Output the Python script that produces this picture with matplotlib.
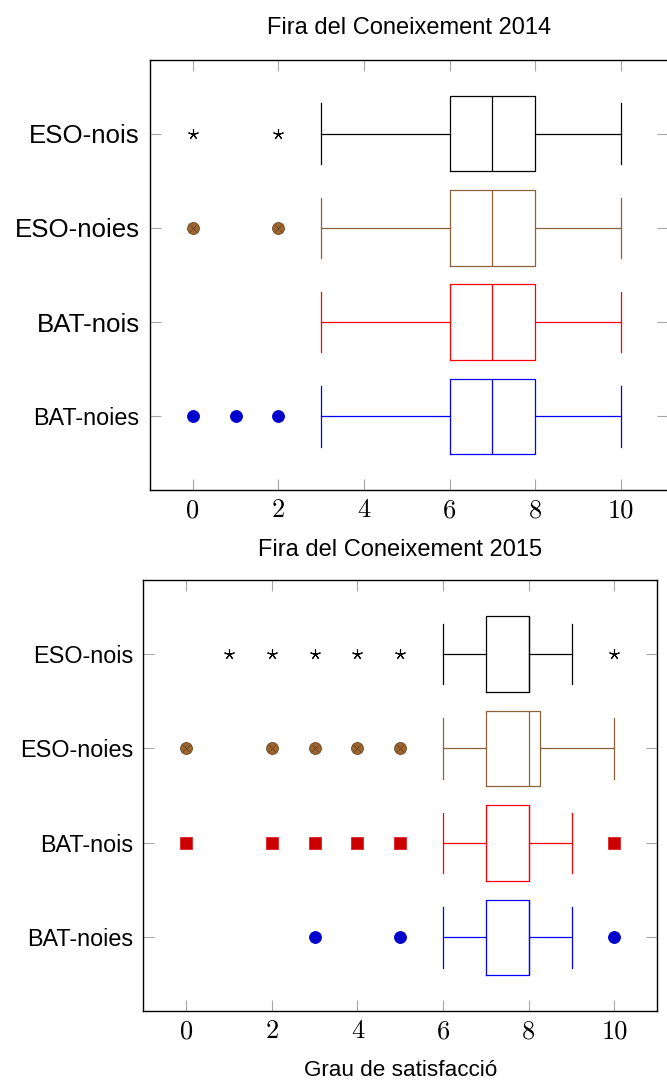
import matplotlib.pyplot as plt

# grups i posicions (de dalt a baix)
grups = ["ESO-nois", "ESO-noies", "BAT-nois", "BAT-noies"]
posicions = [4, 3, 2, 1]

# Fira 2014: bigotis, quartils i mediana
whislo_2014 = [3, 3, 3, 3]
q1_2014 = [6, 6, 6, 6]
med_2014 = [7, 7, 7, 7]
q3_2014 = [8, 8, 8, 8]
whishi_2014 = [10, 10, 10, 10]
atipics_2014 = [[0, 2], [0, 2], [], [0, 1, 2]]

# Fira 2015
whislo_2015 = [6, 6, 6, 6]
q1_2015 = [7, 7, 7, 7]
med_2015 = [8, 8, 8, 8]
q3_2015 = [8, 8.25, 8, 8]
whishi_2015 = [9, 10, 9, 9]
atipics_2015 = [[1, 2, 3, 4, 5, 10], [0, 2, 3, 4, 5], [0, 2, 3, 4, 5, 10], [3, 5, 10]]

ticks_x = [0, 2, 4, 6, 8, 10]

colors_caixa = ["black", "#8c6239", "#ff0000", "#0000ff"]
marques = [
    dict(marker=(5, 2, 0), markersize=7.5, markeredgecolor="black", markerfacecolor="none", markeredgewidth=0.8),
    dict(marker="o", markersize=8.6, markeredgecolor="#6e4a24", markerfacecolor="#9c6531", markeredgewidth=0.6),
    dict(marker="s", markersize=8.2, markeredgecolor="#dd2222", markerfacecolor="#cc0000", markeredgewidth=0.6),
    dict(marker="o", markersize=8.6, markeredgecolor="#0000cc", markerfacecolor="#0000cc", markeredgewidth=0.6),
]

SANS = ["Liberation Sans", "DejaVu Sans"]


def dibuixa(ax, whislo, q1, med, q3, whishi, atipics):
    for i in range(len(grups)):
        stats = [dict(whislo=whislo[i], q1=q1[i], med=med[i], q3=q3[i],
                      whishi=whishi[i], fliers=atipics[i])]
        c = colors_caixa[i]
        lp = dict(color=c, linewidth=0.9)
        ax.bxp(stats, positions=[posicions[i]], orientation="horizontal",
               widths=0.8, capwidths=0.64, showfliers=True,
               boxprops=lp, whiskerprops=lp, capprops=lp, medianprops=lp,
               flierprops=dict(linestyle="none", **marques[i]))
        if i == 1:
            # la creu de la marca otimes
            ax.plot(atipics[i], [posicions[i]] * len(atipics[i]), linestyle="none",
                    marker="x", markersize=5.5, markeredgecolor="#6e4a24", markeredgewidth=0.6)


def estil(ax, xlim, mida_y):
    ax.set_xlim(*xlim)
    ax.set_ylim(0.22, 4.78)
    ax.set_xticks(ticks_x)
    ax.set_xticklabels([str(t) for t in ticks_x], fontfamily="cmr10", fontsize=19)
    ax.set_yticks(posicions)
    ax.set_yticklabels(grups, fontfamily=SANS)
    for lab, m in zip(ax.get_yticklabels(), mida_y):
        lab.set_fontsize(m)
    ax.tick_params(direction="in", length=8, width=0.8, color="0.65",
                   top=True, right=True)
    ax.tick_params(axis="x", pad=6)
    ax.tick_params(axis="y", pad=7.5)
    for s in ax.spines.values():
        s.set_linewidth(1.0)


fig = plt.figure(figsize=(6.67, 10.81), dpi=100)

ax1 = fig.add_axes([150 / 667, 591 / 1081, 518 / 667, 430 / 1081])
dibuixa(ax1, whislo_2014, q1_2014, med_2014, q3_2014, whishi_2014, atipics_2014)
estil(ax1, (-1, 11.1), [18.6, 18.6, 18.6, 16.8])
ax1.set_title("Fira del Coneixement 2014", fontfamily=SANS, fontsize=17, pad=18.5)

ax2 = fig.add_axes([143.3 / 667, 70 / 1081, 514 / 667, 430.7 / 1081])
dibuixa(ax2, whislo_2015, q1_2015, med_2015, q3_2015, whishi_2015, atipics_2015)
estil(ax2, (-1, 11), [16.8, 16.8, 16.8, 16.8])
ax2.set_title("Fira del Coneixement 2015", fontfamily=SANS, fontsize=17, pad=17.5)
ax2.set_xlabel("Grau de satisfacció", fontfamily=SANS, fontsize=16.2, va="baseline")
ax2.xaxis.set_label_coords(0.5, -0.150)

fig.savefig("out.png", dpi=100)
